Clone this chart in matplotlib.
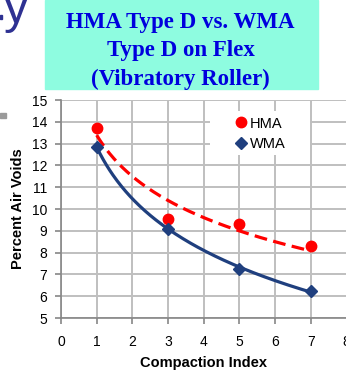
import numpy as np
import matplotlib
matplotlib.use("Agg")
import matplotlib.pyplot as plt
from matplotlib.patches import Rectangle

compaction = [1, 3, 5, 7]
hma_voids = [13.7, 9.55, 9.3, 8.3]
wma_voids = [12.85, 9.1, 7.25, 6.25]

title_lines = ["HMA Type D vs. WMA", "Type D on Flex", "(Vibratory Roller)"]
x_ticks = list(range(0, 9))
y_ticks = list(range(5, 16))

plt.rcParams["font.family"] = ["Liberation Sans", "DejaVu Sans"]

fig = plt.figure(figsize=(3.46, 3.70), dpi=100)

# slide remnants at the top left
fig.text(0.012, 0.938, "y", fontsize=35, color="#2E3192", ha="left", va="baseline")
fig.patches.append(Rectangle((0.0, 0.948), 0.007, 0.011, transform=fig.transFigure,
                             color="#2E3192", zorder=1))
fig.patches.append(Rectangle((0.0, 0.681), 0.018, 0.013, transform=fig.transFigure,
                             color="#9A9A9A", zorder=1))

# title box
fig.patches.append(Rectangle((0.130, 0.7595), 0.789, 0.2405, transform=fig.transFigure,
                             color="#8EFCE0", zorder=1))
for i, line in enumerate(title_lines):
    fig.text(0.522, 0.94 - i * 0.077, line, fontsize=16.5, fontweight="bold",
             family="Liberation Serif", color="#0000DD", ha="center", va="center")

ax = fig.add_axes([0.1763, 0.1405, 0.8254, 0.5892])

ax.set_xlim(0, 8)
ax.set_ylim(5, 15)
ax.set_xticks(x_ticks)
ax.set_yticks(y_ticks)
ax.grid(True, color="#BFBFBF", linewidth=1.4)
ax.set_axisbelow(True)
for side in ["top", "right"]:
    ax.spines[side].set_visible(False)
for side in ["left", "bottom"]:
    ax.spines[side].set_color("#868686")
    ax.spines[side].set_linewidth(1.2)
ax.tick_params(colors="#868686", labelcolor="black", labelsize=10, length=4, width=1.2)
ax.tick_params(axis="x", pad=8)
ax.tick_params(axis="y", pad=6)

# logarithmic trend lines
xs = np.linspace(1, 7, 200)
hma_b, hma_a = np.polyfit(np.log(compaction), hma_voids, 1)
wma_b, wma_a = np.polyfit(np.log(compaction), wma_voids, 1)
ax.plot(xs, hma_a + hma_b * np.log(xs), color="#FF0000", linestyle=(0, (4, 2)),
        linewidth=2.3, zorder=3)
ax.plot(xs, wma_a + wma_b * np.log(xs), color="#1F3F7E", linewidth=2.3, zorder=3)

ax.plot(compaction, hma_voids, "o", color="#FF0000", markersize=7.5, label="HMA", zorder=4)
ax.plot(compaction, wma_voids, "D", color="#1F3F7E", markersize=6, label="WMA", zorder=4)

# white legend area over the grid
ax.add_patch(Rectangle((4.17, 12.48), 2.8, 2.0, facecolor="white", edgecolor="none",
                       zorder=2))
leg = ax.legend(loc="center left", bbox_to_anchor=(0.6, 0.845), frameon=False,
                fontsize=10.5, handletextpad=0.0, handlelength=1.2, borderpad=0,
                labelspacing=0.45, borderaxespad=0)

ax.set_xlabel("Compaction Index", fontsize=10.5, fontweight="bold", labelpad=5)
ax.set_ylabel("Percent Air Voids", fontsize=10.5, fontweight="bold", labelpad=5)

fig.savefig("out.png", dpi=100)
